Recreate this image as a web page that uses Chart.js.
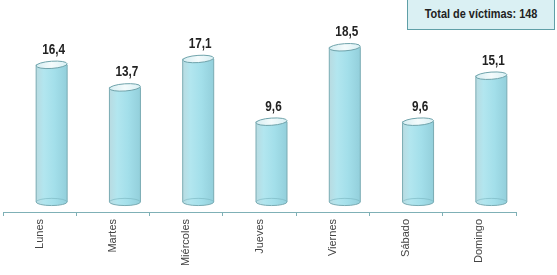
<!DOCTYPE html>
<html lang="es">
<head>
    <meta charset="UTF-8">
    <title>Víctimas por día de la semana</title>
    <script src="https://cdn.jsdelivr.net/npm/chart.js"></script>
    <style>
        body {
            margin: 0;
            background: #fff;
            font-family: "Liberation Sans", Arial, sans-serif;
        }

        .wrap {
            position: relative;
            width: 557px;
            height: 275px;
        }

        .total {
            position: absolute;
            left: 407px;
            top: -2px;
            width: 146px;
            height: 30px;
            background: #daf0f3;
            border: 1px solid #5f9fa7;
            color: #222;
            text-align: center;
            line-height: 28px;
        }

        .total span {
            display: inline-block;
            font-weight: bold;
            font-size: 13px;
            transform: scaleX(0.84);
            white-space: nowrap;
        }
    </style>
</head>
<body>
    <div class="wrap">
        <canvas id="barChart" width="557" height="275"></canvas>
        <div class="total"><span>Total de víctimas: 148</span></div>
    </div>
    <script>
        const days = ['Lunes', 'Martes', 'Miércoles', 'Jueves', 'Viernes', 'Sábado', 'Domingo'];
        const percent = [16.4, 13.7, 17.1, 9.6, 18.5, 9.6, 15.1];

        const labelFont = '"Liberation Sans", Arial, sans-serif';

        // draws each bar as a glass cylinder, shifted right for the 3D look
        const cylinders = {
            id: 'cylinders',
            afterDatasetsDraw(chart) {
                const ctx = chart.ctx;
                const meta = chart.getDatasetMeta(0);
                meta.data.forEach((bar, i) => {
                    const cx = bar.x + 12;
                    const rx = bar.width / 2;
                    const ry = 3.6;
                    const top = bar.y;
                    const bottom = bar.base;

                    ctx.save();
                    const grad = ctx.createLinearGradient(cx - rx, 0, cx + rx, 0);
                    grad.addColorStop(0, '#b9dbe1');
                    grad.addColorStop(0.25, '#b2e6ef');
                    grad.addColorStop(0.6, '#a3dfea');
                    grad.addColorStop(1, '#93cfdb');

                    ctx.beginPath();
                    ctx.moveTo(cx - rx, top);
                    ctx.lineTo(cx - rx, bottom);
                    ctx.ellipse(cx, bottom, rx, ry, 0, Math.PI, 0, true);
                    ctx.lineTo(cx + rx, top);
                    ctx.closePath();
                    ctx.fillStyle = grad;
                    ctx.fill();
                    ctx.strokeStyle = '#7aabb3';
                    ctx.lineWidth = 1;
                    ctx.stroke();

                    // back edge of the base
                    ctx.beginPath();
                    ctx.ellipse(cx, bottom, rx, ry, 0, Math.PI, 0, false);
                    ctx.strokeStyle = 'rgba(120,180,190,0.6)';
                    ctx.stroke();

                    // top
                    ctx.beginPath();
                    ctx.ellipse(cx, top, rx, ry, -0.07, 0, Math.PI * 2);
                    const topGrad = ctx.createLinearGradient(cx - rx, top, cx + rx, top);
                    topGrad.addColorStop(0, '#d6eef2');
                    topGrad.addColorStop(0.5, '#f4fbfc');
                    topGrad.addColorStop(1, '#d9f0f4');
                    ctx.fillStyle = topGrad;
                    ctx.fill();
                    ctx.strokeStyle = '#6fa3ab';
                    ctx.stroke();

                    // value, condensed like a narrow face
                    ctx.translate(cx + 2, top - 11);
                    ctx.scale(0.84, 1);
                    ctx.fillStyle = '#222';
                    ctx.font = 'bold 14px ' + labelFont;
                    ctx.textAlign = 'center';
                    ctx.textBaseline = 'alphabetic';
                    ctx.fillText(percent[i].toFixed(1).replace('.', ','), 0, 0);
                    ctx.restore();
                });
            }
        };

        const ctx = document.getElementById('barChart').getContext('2d');
        new Chart(ctx, {
            type: 'bar',
            data: {
                labels: days,
                datasets: [{
                    data: percent,
                    backgroundColor: 'rgba(0,0,0,0)',
                    borderWidth: 0,
                    barThickness: 31
                }]
            },
            options: {
                responsive: false,
                animation: false,
                layout: {
                    padding: { left: 3, right: 41, top: 18, bottom: 0 }
                },
                plugins: {
                    legend: { display: false },
                    tooltip: { enabled: false }
                },
                scales: {
                    x: {
                        offset: true,
                        grid: {
                            offset: true,
                            drawOnChartArea: false,
                            tickLength: 4,
                            color: '#7fb0b6'
                        },
                        border: { display: true, color: '#7fb0b6' },
                        ticks: {
                            minRotation: 90,
                            maxRotation: 90,
                            padding: 3,
                            color: '#444',
                            font: { family: labelFont, size: 11 }
                        },
                        afterFit(scale) {
                            scale.height = 63;
                        }
                    },
                    y: {
                        display: false,
                        min: -1.2,
                        max: 22
                    }
                }
            },
            plugins: [cylinders]
        });
    </script>
</body>
</html>
